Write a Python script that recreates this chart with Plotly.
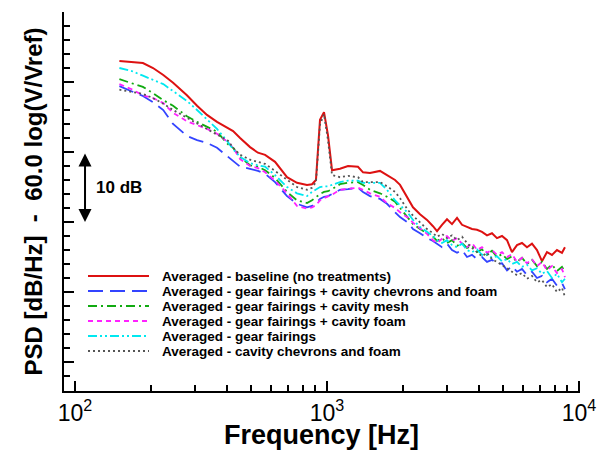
import plotly.graph_objects as go

# Frequency grid [Hz]
freq = [150, 167, 186, 204, 224, 245, 278, 305, 334, 366, 405, 424, 452, 495, 532, 568,
        622, 694, 760, 833, 872, 904, 938, 973, 1009, 1047, 1126, 1212, 1327, 1390, 1481,
        1623, 1730, 1862, 1949, 2096, 2194, 2339, 2494, 2634, 2733, 2860, 2994, 3134, 3281,
        3434, 3594, 3762, 3938, 4122, 4314, 4516, 4727, 4948, 5180, 5421, 5675, 5940, 6218,
        6508, 6812, 7131, 7464, 7813, 8178, 8560, 8797]

baseline = [43.0, 42.9, 42.7, 42.0, 41.0, 39.9, 38.1, 36.6, 35.3, 34.3, 33.4, 33.0, 32.0, 30.7,
            29.9, 29.6, 28.6, 26.4, 25.6, 25.3, 25.4, 26.0, 34.6, 35.7, 32.4, 27.4, 27.6, 28.0,
            27.9, 27.1, 27.0, 27.3, 26.7, 26.0, 25.3, 23.4, 22.1, 21.1, 20.3, 19.4, 18.7, 19.6,
            20.4, 19.7, 20.6, 19.6, 19.3, 19.0, 18.9, 18.6, 18.1, 18.4, 17.7, 18.0, 17.4, 15.7,
            16.7, 17.0, 16.4, 16.9, 16.0, 14.4, 15.7, 15.3, 16.0, 15.6, 16.4]

gf_chev_foam = [39.4, 38.7, 38.0, 37.1, 36.0, 34.0, 32.3, 31.7, 31.3, 30.6, 29.3, 28.7, 27.9, 27.6,
                27.3, 26.9, 25.7, 23.7, 22.6, 22.1, 22.3, 22.7, 23.3, 23.6, 23.7, 24.0, 24.6, 24.7,
                24.9, 24.3, 23.7, 23.3, 22.6, 21.4, 20.7, 19.9, 19.0, 18.4, 17.7, 17.3, 16.9, 16.4,
                16.9, 16.0, 15.6, 16.0, 15.0, 15.3, 14.7, 15.0, 14.3, 14.6, 14.0, 14.1, 13.1, 13.7,
                12.9, 13.3, 12.4, 12.9, 12.0, 12.3, 11.4, 11.9, 10.9, 11.3, 10.4]

gf_mesh = [40.4, 39.9, 39.3, 38.4, 37.4, 36.6, 35.1, 34.3, 33.6, 32.9, 31.1, 30.6, 29.3, 28.1,
           27.9, 27.4, 26.3, 24.3, 23.1, 22.7, 23.1, 23.6, 24.0, 24.3, 24.4, 24.7, 25.4, 25.6,
           25.7, 25.3, 24.6, 24.1, 23.6, 22.9, 22.0, 20.6, 19.7, 19.0, 18.4, 17.9, 17.3, 17.7,
           17.0, 17.4, 16.6, 17.0, 16.3, 16.6, 15.7, 16.1, 15.3, 15.9, 15.0, 15.4, 14.7, 15.1,
           14.3, 14.9, 14.0, 14.6, 13.7, 14.3, 13.3, 13.9, 13.0, 13.6, 12.9]

gf_foam = [39.7, 39.0, 38.1, 37.7, 37.0, 35.6, 34.4, 33.9, 33.3, 32.6, 31.4, 30.6, 29.0, 28.0,
           27.7, 27.1, 25.9, 24.1, 22.3, 21.9, 22.1, 22.4, 23.1, 23.4, 23.6, 23.9, 24.6, 24.7,
           24.9, 24.6, 24.1, 23.6, 22.7, 22.0, 21.4, 20.6, 19.9, 19.1, 18.3, 17.4, 17.0, 17.6,
           18.0, 17.3, 17.7, 16.9, 16.4, 17.0, 16.0, 16.4, 15.6, 16.0, 15.3, 15.7, 15.0, 15.4,
           14.3, 14.9, 14.1, 14.7, 13.7, 14.3, 13.1, 13.7, 12.7, 13.3, 12.1]

gf_only = [42.0, 41.6, 40.9, 40.3, 39.7, 38.7, 37.3, 36.0, 34.6, 33.3, 31.4, 30.4, 29.3, 28.4,
           28.1, 27.9, 26.7, 25.0, 24.1, 23.7, 24.3, 24.7, 25.0, 25.1, 25.1, 25.3, 25.7, 25.9,
           25.9, 25.6, 25.6, 25.6, 24.6, 23.1, 22.4, 21.3, 20.3, 19.3, 18.6, 18.0, 17.4, 17.0,
           17.4, 16.7, 16.4, 16.9, 16.0, 15.7, 16.1, 15.3, 15.4, 14.9, 15.1, 14.4, 14.7, 14.0,
           14.3, 13.6, 13.9, 13.1, 13.4, 12.6, 13.0, 12.0, 12.6, 11.4, 11.9]

chev_foam = [38.9, 38.6, 38.3, 37.7, 36.9, 36.0, 34.9, 34.1, 33.4, 32.6, 31.6, 30.6, 29.6, 28.9,
             28.6, 28.3, 27.3, 26.0, 25.0, 24.6, 24.9, 25.7, 33.9, 35.4, 31.7, 26.7, 26.4, 26.6,
             26.4, 25.7, 25.7, 25.7, 25.1, 24.3, 23.4, 21.7, 20.9, 19.9, 19.0, 18.4, 17.9, 18.3,
             17.7, 18.1, 17.4, 17.9, 17.0, 16.3, 15.7, 15.1, 15.6, 14.7, 14.3, 13.9, 13.4, 12.9,
             12.4, 12.7, 11.9, 12.3, 11.4, 11.7, 10.7, 11.1, 10.0, 10.6, 9.3]

series_names = [
    "Averaged - baseline (no treatments)",
    "Averaged - gear fairings + cavity chevrons and foam",
    "Averaged - gear fairings + cavity mesh",
    "Averaged - gear fairings + cavity foam",
    "Averaged - gear fairings",
    "Averaged - cavity chevrons and foam",
]
series_values = [baseline, gf_chev_foam, gf_mesh, gf_foam, gf_only, chev_foam]
colors = ["#dd1111", "#3344ff", "#11aa11", "#ff22ff", "#00e8f0", "#555555"]
dashes = ["solid", "15px,7px", "9px,4px,2px,4px", "5px,4px", "9px,3px,2px,3px,2px,3px", "2px,3px"]
widths = [2, 1.8, 1.8, 1.8, 1.8, 1.8]

W, H = 598, 453
ML, MR, MT, MB = 64, 18, 12, 62
PW, PH = W - ML - MR, H - MT - MB

def px2paper(px, py):
    return (px - ML) / PW, (H - MB - py) / PH

fig = go.Figure()
for name, vals, c, d, w in zip(series_names, series_values, colors, dashes, widths):
    fig.add_trace(go.Scatter(x=freq, y=vals, mode="lines", name=name, showlegend=False,
                             line=dict(color=c, dash=d, width=w)))

FONT = "Liberation Sans, Arial, sans-serif"

# custom legend (line samples + labels)
LEG_X0, LEG_X1, LEG_TX, LEG_Y0, LEG_DY = 88, 149, 160, 276, 15
for i, (name, c, d, w) in enumerate(zip(series_names, colors, dashes, widths)):
    py = LEG_Y0 + i * LEG_DY
    x0, y0 = px2paper(LEG_X0, py)
    x1, _ = px2paper(LEG_X1, py)
    fig.add_shape(type="line", xref="paper", yref="paper", x0=x0, x1=x1, y0=y0, y1=y0,
                  line=dict(color=c, dash=d, width=w))
    tx, _ = px2paper(LEG_TX, py)
    fig.add_annotation(xref="paper", yref="paper", x=tx, y=y0, text="<b>%s</b>" % name,
                       showarrow=False, xanchor="left", yanchor="middle",
                       font=dict(size=13.5, family=FONT, color="black"))

# x-axis title placed as annotation for exact position
tx, ty = px2paper(321, 435)
fig.add_annotation(xref="paper", yref="paper", x=tx, y=ty, text="<b>Frequency [Hz]</b>",
                   showarrow=False, xanchor="center", yanchor="middle",
                   font=dict(size=27, family=FONT, color="black"))

fig.update_layout(
    width=W, height=H,
    margin=dict(l=ML, r=MR, t=MT, b=MB, autoexpand=False),
    paper_bgcolor="white", plot_bgcolor="white",
    font=dict(family=FONT, color="black"),
    showlegend=False,
    xaxis=dict(type="log", range=[1.9563, 4.004], showgrid=False, zeroline=False, automargin=False,
               showline=True, linecolor="black", linewidth=2,
               ticks="inside", ticklen=10, tickwidth=2, tickcolor="black",
               tickvals=[100, 1000, 10000], ticktext=["10<sup>2</sup>", "10<sup>3</sup>", "10<sup>4</sup>"],
               tickfont=dict(size=23, family=FONT),
               minor=dict(ticks="inside", ticklen=6, tickwidth=1.5, tickcolor="black", dtick="D1", showgrid=False)),
    yaxis=dict(range=[-4.14, 50], showgrid=False, zeroline=False, automargin=False,
               showline=True, linecolor="black", linewidth=2,
               ticks="inside", ticklen=10, tickwidth=2, tickcolor="black",
               tick0=0, dtick=10, showticklabels=False,
               minor=dict(ticks="inside", ticklen=6, tickwidth=1.5, tickcolor="black", dtick=2, showgrid=False),
               title=dict(text="PSD [dB/Hz]  -  60.0 log(V/Vref)", font=dict(size=24, family=FONT, weight="bold"), standoff=13)),
)

# 10 dB scale arrow
fig.add_annotation(x=2.0397, y=20, ax=2.0397, ay=30, xref="x", yref="y", axref="x", ayref="y",
                   text="", showarrow=True, arrowhead=2, arrowside="end+start",
                   arrowwidth=2, arrowsize=1.3, arrowcolor="black")
fig.add_annotation(x=2.075, y=25, xref="x", yref="y", text="<b>10 dB</b>", showarrow=False,
                   xanchor="left", yanchor="middle", font=dict(size=17, family=FONT, color="black"))

fig.write_html("out.html")
